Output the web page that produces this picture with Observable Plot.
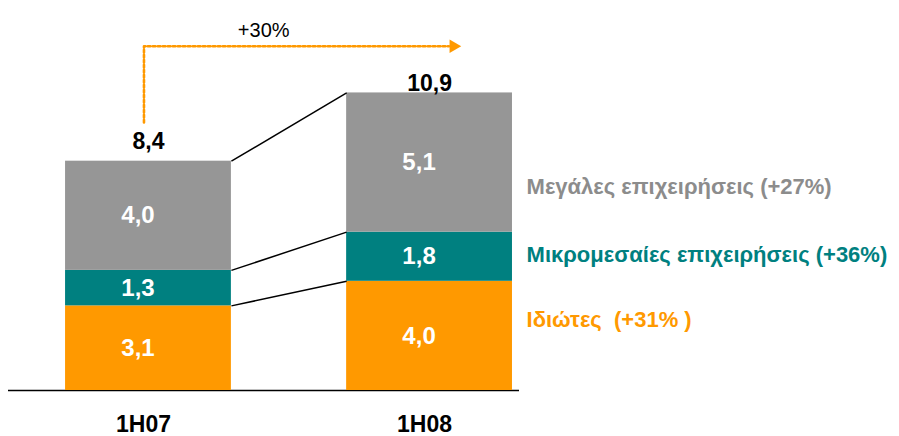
<!DOCTYPE html>
<html><head><meta charset="utf-8">
<script src="https://cdn.jsdelivr.net/npm/d3@7"></script>
<script src="https://cdn.jsdelivr.net/npm/@observablehq/plot@0.6"></script>
<style>body{margin:0;background:#fff} #chart{width:899px;height:436px}</style>
</head><body><div id="chart"></div>
<script>
// ---- data ----
const periods = ["1H07", "1H08"];
const seriesNames = ["Ιδιώτες", "Μικρομεσαίες επιχειρήσεις", "Μεγάλες επιχειρήσεις"];
const individuals = [3.1, 4.0];
const smes = [1.3, 1.8];
const corporates = [4.0, 5.1];
const totals = [8.4, 10.9];
const legendTexts = ["Ιδιώτες  (+31% )", "Μικρομεσαίες επιχειρήσεις (+36%)", "Μεγάλες επιχειρήσεις (+27%)"];
const totalGrowth = "+30%";

// ---- styling ----
const seriesColors = ["#FF9900", "#008080", "#969696"];
const labelColors = ["#FF9900", "#008080", "#8C8C8C"];
const HW = 0.295; // half bar width in x units
const fmt = v => v.toFixed(1).replace(".", ",");

const seriesValues = [individuals, smes, corporates];
const rows = [];
periods.forEach((p, i) => {
  let c = 0;
  seriesValues.forEach((vals, s) => {
    rows.push({i, period: p, s, series: seriesNames[s], value: vals[i], y1: c, y2: c + vals[i]});
    c += vals[i];
  });
});
const tops = (i, s) => rows.find(r => r.i === i && r.s === s).y2;
const connectors = seriesNames.map((n, s) => ({a: tops(0, s), b: tops(1, s)}));
const arrowPts = [
  {x: 0, y: totals[0] + 1.42},
  {x: 0, y: totals[1] + 1.71},
  {x: 1.085, y: totals[1] + 1.71}
];
const legendDy = [-16.4, -1.7, 24];

const marks = [
  Plot.ruleY([0], {stroke: "#000", strokeWidth: 1.5}),
  Plot.rect(rows, {x1: d => d.i - HW, x2: d => d.i + HW, y1: "y1", y2: "y2", fill: "series"}),
  Plot.link(connectors, {x1: () => HW, x2: () => 1 - HW, y1: "a", y2: "b", stroke: "#000", strokeWidth: 1.5}),
  Plot.text(rows, {x: "i", y: d => (d.y1 + d.y2) / 2, text: d => fmt(d.value), fill: "#fff",
    fontWeight: "bold", fontSize: 24, dx: -10.5, lineAnchor: "middle"}),
  Plot.text([0], {x: i => i, y: i => totals[i], text: i => fmt(totals[i]), fill: "#000",
    fontWeight: "bold", fontSize: 23, dy: -19.7, lineAnchor: "middle"}),
  Plot.text([1], {x: i => i, y: i => totals[i], text: i => fmt(totals[i]), fill: "#000",
    fontWeight: "bold", fontSize: 23, dy: -9.8, lineAnchor: "middle"}),
  Plot.text(periods, {x: (d, i) => i, y: () => 0, text: d => d, fill: "#000",
    fontWeight: "bold", fontSize: 23, dy: 34, dx: -5, lineAnchor: "middle"}),
  Plot.line(arrowPts, {x: "x", y: "y", stroke: "#FF9900", strokeWidth: 2.6, strokeDasharray: "2.6,2.4", dx: -4.5}),
  Plot.dot([arrowPts[2]], {x: "x", y: "y", symbol: "triangle", rotate: 90, r: 5, fill: "#FF9900", stroke: "none", dx: 0}),
  Plot.text([totalGrowth], {x: () => 0.41, y: () => 13.19, text: d => d, fill: "#000", fontSize: 20, lineAnchor: "middle"})
];
seriesNames.forEach((n, s) => {
  marks.push(Plot.text([s], {x: () => 1, y: d => tops(1, d) - seriesValues[d][1] / 2, text: d => legendTexts[d],
    fill: labelColors[s], fontWeight: "bold", fontSize: 22, textAnchor: "start", dx: 97, dy: legendDy[s], lineAnchor: "middle"}));
});

const chart = Plot.plot({
  width: 899, height: 436,
  marginTop: 0, marginBottom: 46, marginLeft: 8, marginRight: 380,
  x: {domain: [-0.498, 1.32], axis: null},
  y: {domain: [0, 14.286], axis: null},
  color: {domain: seriesNames, range: seriesColors},
  style: {fontFamily: "'Liberation Sans', Arial, sans-serif", background: "#fff", overflow: "visible"},
  marks
});
document.getElementById("chart").appendChild(chart);
</script>
</body></html>
